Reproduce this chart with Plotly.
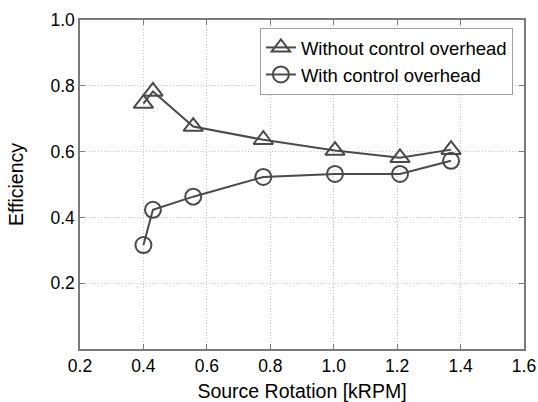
import plotly.graph_objects as go

# Data
rotation_without = [0.40, 0.43, 0.557, 0.778, 1.004, 1.209, 1.370]
eff_without = [0.746, 0.783, 0.676, 0.636, 0.603, 0.581, 0.606]

rotation_with = [0.40, 0.43, 0.557, 0.778, 1.004, 1.209, 1.370]
eff_with = [0.316, 0.423, 0.463, 0.523, 0.532, 0.532, 0.572]

x_ticks = [0.2, 0.4, 0.6, 0.8, 1.0, 1.2, 1.4, 1.6]
x_tick_labels = ["0.2", "0.4", "0.6", "0.8", "1.0", "1.2", "1.4", "1.6"]
y_ticks = [0.2, 0.4, 0.6, 0.8, 1.0]
y_tick_labels = ["0.2", "0.4", "0.6", "0.8", "1.0"]

line_color = "#4a4a4a"
font_family = "Liberation Sans, Arial, sans-serif"

fig = go.Figure()
fig.add_trace(go.Scatter(
    x=rotation_without, y=eff_without, mode="lines+markers",
    name="Without control overhead",
    line=dict(color=line_color, width=2),
    marker=dict(symbol="triangle-up-open", size=17, color=line_color,
                line=dict(color=line_color, width=2)),
))
fig.add_trace(go.Scatter(
    x=rotation_with, y=eff_with, mode="lines+markers",
    name="With control overhead",
    line=dict(color=line_color, width=2),
    marker=dict(symbol="circle-open", size=16, color=line_color,
                line=dict(color=line_color, width=2)),
))

axis_common = dict(
    showline=True, linecolor="#7a7a7a", linewidth=1.5, mirror="ticks",
    ticks="inside", ticklen=5, tickcolor="#7a7a7a", tickwidth=1,
    showgrid=True, gridcolor="#c8c8c8", gridwidth=1, griddash="1px,2px",
    zeroline=False, automargin=True,
    tickfont=dict(family=font_family, size=17.5, color="black"),
)

fig.update_xaxes(
    range=[0.2, 1.6], tickvals=x_ticks, ticktext=x_tick_labels,
    title=dict(text="Source Rotation [kRPM]", font=dict(family=font_family, size=19.5, color="black"), standoff=14),
    **axis_common,
)
fig.update_yaxes(
    range=[0, 1], tickvals=y_ticks, ticktext=y_tick_labels,
    title=dict(text="Efficiency", font=dict(family=font_family, size=19.5, color="black"), standoff=22),
    **axis_common,
)

fig.update_layout(
    width=538, height=402,
    margin=dict(l=80, r=14, t=20, b=53, autoexpand=False),
    paper_bgcolor="white", plot_bgcolor="white",
    font=dict(family=font_family, color="black"),
    legend=dict(
        x=0.975, y=0.976, xanchor="right", yanchor="top",
        bgcolor="white", bordercolor="#a0a0a0", borderwidth=1,
        font=dict(family=font_family, size=18.5, color="black"),
        itemwidth=30, tracegroupgap=0,
    ),
)

fig.write_html("out.html", config={"displayModeBar": False},
               post_script="document.body.style.margin='0px';")
